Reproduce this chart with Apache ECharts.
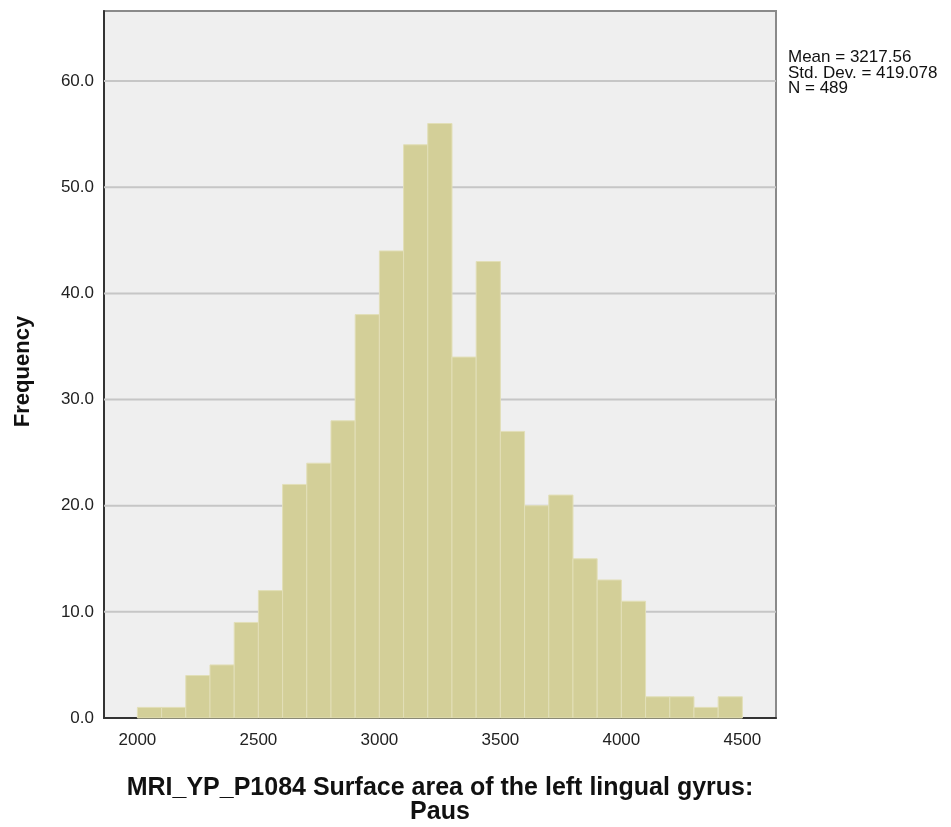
<!DOCTYPE html>
<html><head><meta charset="utf-8">
<script src="https://cdn.jsdelivr.net/npm/echarts@6/dist/echarts.min.js"></script>
<style>html,body{margin:0;padding:0;background:#fff}#c{width:951px;height:827px}</style>
</head><body><div id="c"></div>
<script>
const binStarts = [2000,2100,2200,2300,2400,2500,2600,2700,2800,2900,3000,3100,3200,3300,3400,3500,3600,3700,3800,3900,4000,4100,4200,4300,4400];
const binWidth = 100;
const counts = [1,1,4,5,9,12,22,24,28,38,44,54,56,34,43,27,20,21,15,13,11,2,2,1,2];
const xTicks = [2000,2500,3000,3500,4000,4500];
const yTicks = [0,10,20,30,40,50,60];
const statsLines = ['Mean = 3217.56','Std. Dev. = 419.078','N = 489'];
const xTitle = 'MRI_YP_P1084 Surface area of the left lingual gyrus:\nPaus';
const yTitle = 'Frequency';

const data = binStarts.map((s,i)=>[s, s+binWidth, counts[i]]);
const chart = echarts.init(document.getElementById('c'));
const F = '"Liberation Sans", Arial, sans-serif';
chart.setOption({
  animation:false,
  grid:{left:104,right:175,top:11,bottom:109,show:true,outerBoundsMode:'none',containLabel:false,backgroundColor:'#efefef',borderColor:'#8a8a8a',borderWidth:2},
  xAxis:{type:'value',min:1862,max:4639,interval:500,
    axisLine:{show:true,lineStyle:{color:'#333',width:2}},
    axisTick:{show:false},splitLine:{show:false},
    axisLabel:{fontFamily:F,fontSize:17,color:'#222',margin:14,
      customValues:xTicks, formatter:v=>String(v)},
    name:xTitle,nameLocation:'middle',nameGap:58,
    nameTextStyle:{fontFamily:F,fontSize:25,fontWeight:'bold',color:'#111',lineHeight:24}
  },
  yAxis:{type:'value',min:0,max:66.6,
    axisLine:{show:true,lineStyle:{color:'#333',width:2}},
    axisTick:{show:false},
    splitLine:{show:false},
    axisLabel:{fontFamily:F,fontSize:17,color:'#222',margin:10,padding:[6,0,0,0],customValues:yTicks,formatter:v=>v.toFixed(1)},
    name:yTitle,nameLocation:'middle',nameGap:70,nameRotate:90,
    nameTextStyle:{fontFamily:F,fontSize:22,fontWeight:'bold',color:'#111',padding:[0,14,0,0]}
  },
  series:[
  {type:'custom',z:1,data:yTicks.filter(v=>v>0).map(v=>[v]),
    renderItem:(p,api)=>{
      const a=api.coord([1862,api.value(0)]), b=api.coord([4639,api.value(0)]);
      return {type:'line',shape:{x1:a[0],y1:a[1],x2:b[0],y2:b[1]},style:{stroke:'#c6c6c6',lineWidth:2}};
    }},
  {type:'custom',z:2,data:data,encode:{x:[0,1],y:2},
    renderItem:(p,api)=>{
      const a=api.coord([api.value(0),api.value(2)]), b=api.coord([api.value(1),0]);
      return {type:'rect',shape:{x:a[0],y:a[1],width:b[0]-a[0],height:b[1]-a[1]},
        style:{fill:'#d3cf98',stroke:'#e2dfb8',lineWidth:1}};
    }}
  ],
  graphic:[{type:'text',left:788,top:49,style:{text:statsLines.join('\n'),fontFamily:F,fontSize:17,lineHeight:15.5,fill:'#111'}}]
});
</script></body></html>
